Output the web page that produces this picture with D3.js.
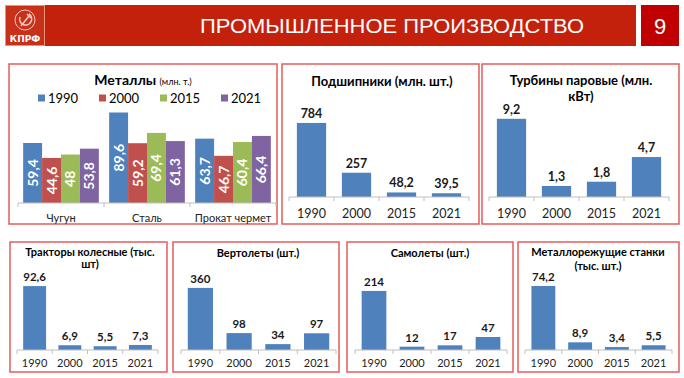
<!DOCTYPE html>
<html lang="ru">
<head>
  <meta charset="UTF-8">
  <title>Промышленное производство</title>
  <style>
    body { margin: 0; background: #fff; }
    text { font-family: Lato, "Open Sans", sans-serif; }
  </style>
</head>
<body>
  <svg id="chart"></svg>

  <script src="https://d3js.org/d3.v7.min.js"></script>
  <script>
    // data
    const years = ["1990", "2000", "2015", "2021"];
    const metalCategories = ["Чугун", "Сталь", "Прокат чермет"];
    const metals1990 = [59.4, 89.6, 63.7];
    const metals2000 = [44.6, 59.2, 46.7];
    const metals2015 = [48, 69.4, 60.4];
    const metals2021 = [53.8, 61.3, 66.4];
    const bearings = [784, 257, 48.2, 39.5];
    const turbines = [9.2, 1.3, 1.8, 4.7];
    const tractors = [92.6, 6.9, 5.5, 7.3];
    const helicopters = [360, 98, 34, 97];
    const planes = [214, 12, 17, 47];
    const machineTools = [74.2, 8.9, 3.4, 5.5];
    const axisMax = [100, 900, 10, 100, 400, 250, 80];

    const colors = ["#4f81bd", "#c0504d", "#9bbb59", "#8064a2"];
    const fmt = v => String(v).replace(".", ",");

    const svg = d3.select("#chart")
      .attr("width", 684)
      .attr("height", 378);

    // header
    svg.append("rect").attr("x", 5).attr("y", 5).attr("width", 631).attr("height", 41).attr("fill", "#c4210c");
    svg.append("rect").attr("x", 5.5).attr("y", 5.5).attr("width", 39).attr("height", 40)
      .attr("fill", "#c8301a").attr("stroke", "#e7917f").attr("stroke-width", 1);
    const logo = svg.append("g").attr("transform", "translate(25,20)")
      .attr("fill", "none").attr("stroke", "#f3c9bf").attr("stroke-width", 1);
    logo.append("circle").attr("r", 10);
    logo.append("path").attr("d", "M-5,-3 A6,6 0 1,0 4,-6").attr("stroke-width", 1.6);
    logo.append("path").attr("d", "M-4,6 L4,-4 M2,-6 L6,-2").attr("stroke-width", 1.6);
    svg.append("text").attr("x", 25).attr("y", 42).attr("text-anchor", "middle")
      .attr("fill", "#fff").attr("font-size", 9).attr("font-weight", "bold")
      .style("font-family", "'DejaVu Sans', sans-serif").text("КПРФ");
    svg.append("text").attr("x", 392).attr("y", 33).attr("text-anchor", "middle")
      .attr("fill", "#fff").attr("font-size", 20)
      .style("font-family", "'Liberation Sans Narrow', 'Liberation Sans', sans-serif")
      .attr("textLength", 384).attr("lengthAdjust", "spacingAndGlyphs")
      .text("ПРОМЫШЛЕННОЕ ПРОИЗВОДСТВО");
    svg.append("rect").attr("x", 641).attr("y", 5).attr("width", 38).attr("height", 41).attr("fill", "#c00000");
    svg.append("text").attr("x", 660).attr("y", 34).attr("text-anchor", "middle")
      .attr("fill", "#fff").attr("font-size", 22)
      .style("font-family", "'Liberation Sans Narrow', 'Liberation Sans', sans-serif").text("9");

    function panelBox(x0, y0, x1, y1) {
      svg.append("rect").attr("x", x0).attr("y", y0).attr("width", x1 - x0).attr("height", y1 - y0)
        .attr("fill", "#fff").attr("stroke", "#e35d5d").attr("stroke-width", 1.5);
    }

    function drawAxisLine(x, base) {
      const [r0, r1] = x.range();
      svg.append("line").attr("x1", r0).attr("x2", r1).attr("y1", base).attr("y2", base)
        .attr("stroke", "#bfbfbf");
      const n = x.domain().length;
      svg.selectAll(null).data(d3.range(n + 1)).enter().append("line")
        .attr("x1", i => r0 + (r1 - r0) * i / n).attr("x2", i => r0 + (r1 - r0) * i / n)
        .attr("y1", base).attr("y2", base + 4).attr("stroke", "#bfbfbf");
    }

    // metals grouped chart
    panelBox(9, 64, 277, 224);
    const mt = svg.append("text").attr("x", 143).attr("y", 85).attr("text-anchor", "middle").attr("fill", "#000");
    mt.append("tspan").attr("font-size", 14).attr("font-weight", "bold").text("Металлы ");
    mt.append("tspan").attr("font-size", 9).text("(млн. т.)");

    const legend = svg.selectAll(".leg").data(years).enter().append("g")
      .attr("transform", (d, i) => `translate(${38 + i * 61},98)`);
    legend.append("rect").attr("x", 0).attr("y", -3.5).attr("width", 7).attr("height", 7).attr("fill", (d, i) => colors[i]);
    legend.append("text").attr("x", 10).attr("y", 4.5).attr("font-size", 13).attr("fill", "#000").text(d => d);

    const metalSeries = [metals1990, metals2000, metals2015, metals2021];
    const x0 = d3.scaleBand().domain(metalCategories).range([18, 276]).paddingInner(0.12).paddingOuter(0.06);
    const x1 = d3.scaleBand().domain(years).range([0, x0.bandwidth()]);
    const yM = d3.scaleLinear().domain([0, axisMax[0]]).range([203, 102]);
    const metalCells = metalCategories.flatMap((c, ci) =>
      years.map((yr, si) => ({ c, yr, si, v: metalSeries[si][ci] })));
    svg.selectAll(".mbar").data(metalCells).enter().append("rect")
      .attr("x", d => x0(d.c) + x1(d.yr)).attr("y", d => yM(d.v))
      .attr("width", x1.bandwidth()).attr("height", d => 203 - yM(d.v))
      .attr("fill", d => colors[d.si]);
    svg.selectAll(".mlab").data(metalCells).enter().append("text")
      .attr("transform", d => `translate(${x0(d.c) + x1(d.yr) + x1.bandwidth() / 2 + 5},${(yM(d.v) + 203) / 2}) rotate(-90)`)
      .attr("text-anchor", "middle").attr("font-size", 14).attr("font-weight", "bold").attr("fill", "#fff")
      .text(d => fmt(d.v));
    // outer axis: ticks between categories
    const xOuter = d3.scaleBand().domain(metalCategories).range([18, 276]);
    drawAxisLine(xOuter, 203);
    svg.selectAll(".mcat").data(metalCategories).enter().append("text")
      .attr("x", d => x0(d) + x0.bandwidth() / 2).attr("y", 222).attr("text-anchor", "middle")
      .attr("font-size", 11).attr("fill", "#222").text(d => d);

    // single-series panels
    function barPanel(cfg) {
      panelBox(...cfg.box);
      svg.selectAll(null).data(cfg.title).enter().append("text")
        .attr("x", cfg.cx).attr("y", (d, i) => cfg.titleY + i * cfg.lineH)
        .attr("text-anchor", "middle").attr("font-size", cfg.titleSize).attr("font-weight", "bold")
        .attr("fill", "#000").text(d => d);
      const x = d3.scaleBand().domain(years).range(cfg.range).paddingInner(0.35).paddingOuter(0.175);
      const y = d3.scaleLinear().domain([0, cfg.max]).range([cfg.base, cfg.plotTop]);
      svg.selectAll(null).data(cfg.values).enter().append("rect")
        .attr("x", (d, i) => x(years[i])).attr("y", d => y(d))
        .attr("width", x.bandwidth()).attr("height", d => cfg.base - y(d))
        .attr("fill", colors[0]);
      svg.selectAll(null).data(cfg.values).enter().append("text")
        .attr("x", (d, i) => x(years[i]) + x.bandwidth() / 2).attr("y", d => y(d) - 5)
        .attr("text-anchor", "middle").attr("font-size", cfg.valSize).attr("font-weight", "bold")
        .attr("fill", "#1a1a1a").text(d => fmt(d));
      drawAxisLine(d3.scaleBand().domain(years).range(cfg.range), cfg.base);
      svg.selectAll(null).data(years).enter().append("text")
        .attr("x", d => x(d) + x.bandwidth() / 2).attr("y", cfg.base + cfg.yearDy)
        .attr("text-anchor", "middle").attr("font-size", cfg.yearSize).attr("fill", "#222").text(d => d);
    }

    const topRow = { base: 197, plotTop: 112, titleSize: 13, lineH: 16, valSize: 12.5, yearSize: 12.5, yearDy: 21, titleY: 86 };
    const bottomRow = { base: 350, plotTop: 281, titleSize: 11, lineH: 13, valSize: 11.5, yearSize: 11, yearDy: 17, titleY: 257 };

    barPanel({ ...topRow, box: [282, 64, 479, 224], cx: 382, range: [289, 469], max: axisMax[1],
      values: bearings, title: ["Подшипники (млн. шт.)"] });
    barPanel({ ...topRow, box: [482, 64, 679, 224], cx: 581, range: [489, 669], max: axisMax[2],
      values: turbines, title: ["Турбины паровые (млн.", "кВт)"], titleY: 85 });
    barPanel({ ...bottomRow, box: [10, 242, 167, 372], cx: 90, range: [17, 158], max: axisMax[3],
      values: tractors, title: ["Тракторы колесные (тыс.", "шт)"], titleY: 256, lineH: 12 });
    barPanel({ ...bottomRow, box: [173, 242, 339, 372], cx: 258, range: [181, 336], max: axisMax[4],
      values: helicopters, title: ["Вертолеты (шт.)"] });
    barPanel({ ...bottomRow, box: [347, 242, 513, 372], cx: 430, range: [355, 507], max: axisMax[5],
      values: planes, title: ["Самолеты (шт.)"] });
    barPanel({ ...bottomRow, box: [518, 242, 679, 372], cx: 598, range: [525, 672], max: axisMax[6],
      values: machineTools, title: ["Металлорежущие станки", "(тыс. шт.)"], titleY: 256, lineH: 14 });
  </script>
</body>
</html>
